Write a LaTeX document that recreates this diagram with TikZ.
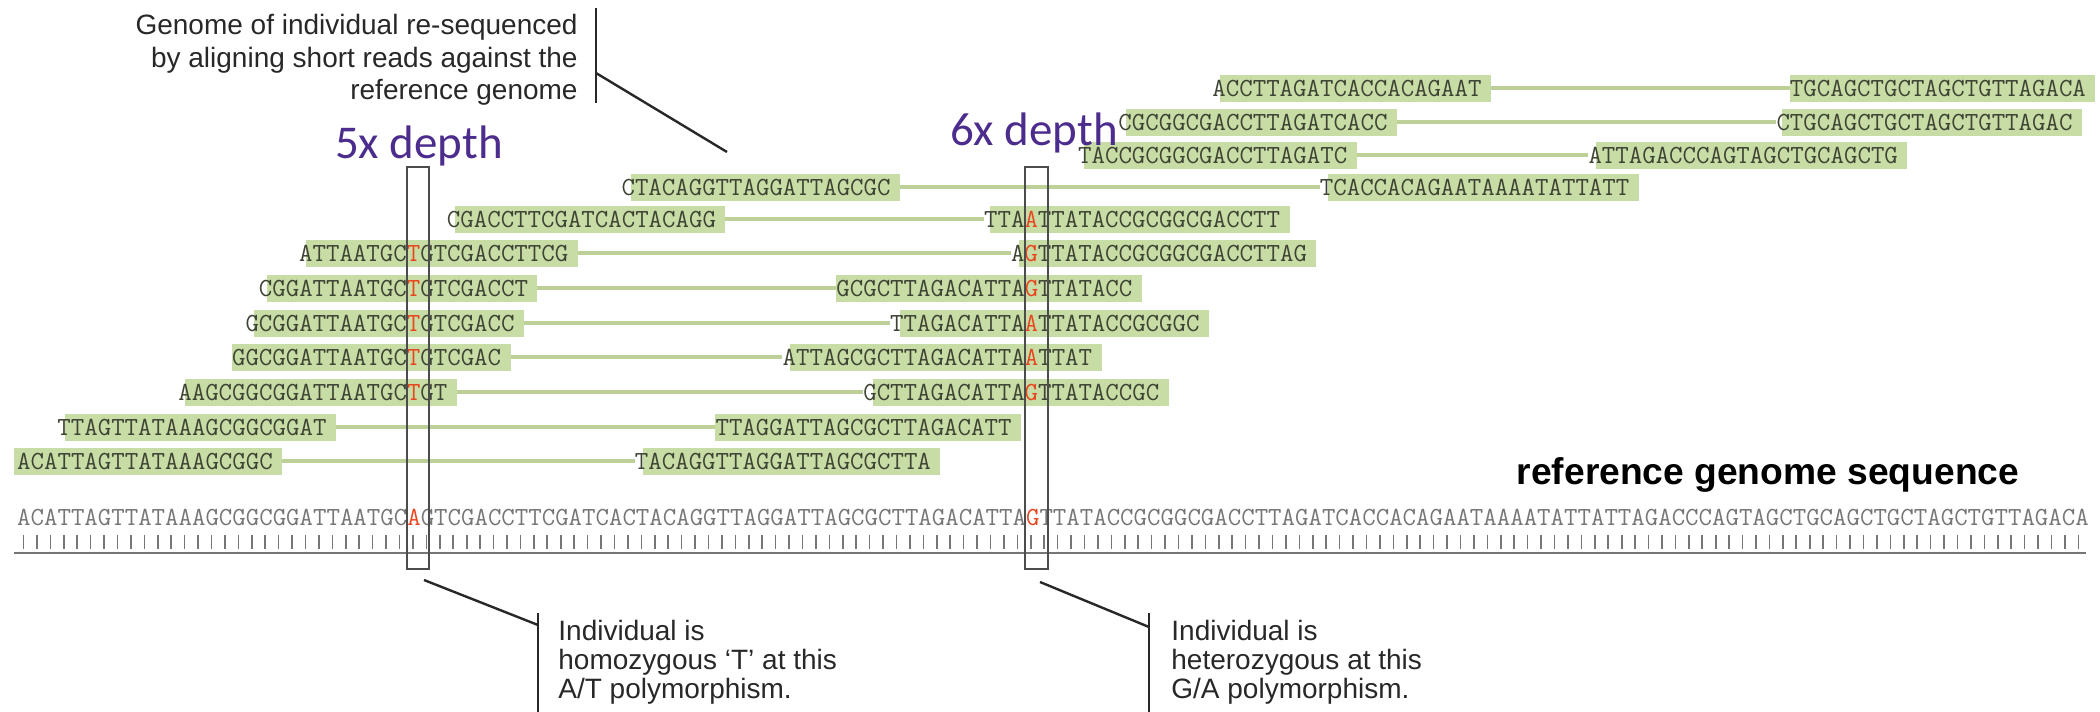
\documentclass[tikz,border=0pt]{standalone}
\usepackage{fontspec}
\usepackage{tikz}
\usetikzlibrary{calc,backgrounds}
\newfontfamily\notefont{Liberation Sans}
\newfontfamily\depthfont{Carlito}
\definecolor{readgreen}{RGB}{200,220,165}
\definecolor{linkgreen}{RGB}{188,208,152}
\definecolor{readgray}{RGB}{62,68,52}
\definecolor{refgray}{RGB}{118,118,118}
\definecolor{snpred}{RGB}{232,70,30}
\definecolor{depthpurple}{RGB}{76,44,140}
\definecolor{notegray}{RGB}{40,40,40}
\newcommand{\seqx}{16.8}
\newcommand{\seqw}{13.43}
\newcommand{\varbase}[1]{{\color{snpred}#1}}
\newcommand{\readpair}[8]{
	\node[readtext] (l#1) at ({\seqx+(#3-1)*\seqw},#2) {#5};
	\node[readtext] (r#1) at ({\seqx+(#6-1)*\seqw},#2) {#8};
	\begin{pgfonlayer}{background}
	\draw[pairline] (l#1.east) -- (r#1.west);
	\fill[readfill] ($(l#1.west)+(#4,-13.5)$) rectangle ($(l#1.east)+(9,13.5)$);
	\fill[readfill] ($(r#1.west)+(#7,-13.5)$) rectangle ($(r#1.east)+(9,13.5)$);
	\end{pgfonlayer}
}

\begin{document}
\begin{tikzpicture}[x=0.5pt,y=-0.5pt,
	readtext/.style={anchor=west, inner sep=0pt, text=readgray, font=\fontsize{13.06}{14}\selectfont\ttfamily},
	reftext/.style={readtext, text=refgray},
	readfill/.style={fill=readgreen},
	pairline/.style={draw=linkgreen, line width=1.6pt},
	tick/.style={draw=refgray, line width=0.8pt},
	scaleline/.style={draw=refgray, line width=1pt},
	snpbox/.style={draw=black!70, line width=1pt},
	callout/.style={draw=notegray, line width=1.2pt},
	note/.style={inner sep=0pt, text=notegray, font=\notefont\fontsize{14}{16.25}\selectfont},
	depthlabel/.style={inner sep=0pt, text=depthpurple, font=\depthfont\fontsize{23.5}{28}\selectfont}]
	\useasboundingbox (0,0) rectangle (2100,712);

	\readpair{1}{88}{90}{8}{ACCTTAGATCACCACAGAAT}{133}{0}{TGCAGCTGCTAGCTGTTAGACA}
	\readpair{2}{122}{83}{8}{CGCGGCGACCTTAGATCACC}{132}{6}{CTGCAGCTGCTAGCTGTTAGAC}
	\readpair{3}{155}{80}{6}{TACCGCGGCGACCTTAGATC}{118}{8}{ATTAGACCCAGTAGCTGCAGCTG}
	\readpair{4}{187}{46}{10}{CTACAGGTTAGGATTAGCGC}{98}{8}{TCACCACAGAATAAAATATTATT}
	\readpair{5}{219}{33}{8}{CGACCTTCGATCACTACAGG}{73}{6}{TTA\varbase{A}TTATACCGCGGCGACCTT}
	\readpair{6}{253}{22}{7}{ATTAATGC\varbase{T}GTCGACCTTCG}{75}{8}{A\varbase{G}TTATACCGCGGCGACCTTAG}
	\readpair{7}{288}{19}{8}{CGGATTAATGC\varbase{T}GTCGACCT}{62}{0}{GCGCTTAGACATTA\varbase{G}TTATACC}
	\readpair{8}{323}{18}{9}{GCGGATTAATGC\varbase{T}GTCGACC}{66}{10}{TTAGACATTA\varbase{A}TTATACCGCGGC}
	\readpair{9}{357}{17}{0}{GGCGGATTAATGC\varbase{T}GTCGAC}{58}{8}{ATTAGCGCTTAGACATTA\varbase{A}TTAT}
	\readpair{10}{392}{13}{7}{AAGCGGCGGATTAATGC\varbase{T}GT}{64}{10}{GCTTAGACATTA\varbase{G}TTATACCGC}
	\readpair{11}{427}{4}{8}{TTAGTTATAAAGCGGCGGAT}{53}{0}{TTAGGATTAGCGCTTAGACATT}
	\readpair{12}{461}{1}{-3}{ACATTAGTTATAAAGCGGC}{47}{8}{TACAGGTTAGGATTAGCGCTTA}

	\node[reftext] (refseq) at ({\seqx},517) {ACATTAGTTATAAAGCGGCGGATTAATGC\varbase{A}GTCGACCTTCGATCACTACAGGTTAGGATTAGCGCTTAGACATTA\varbase{G}TTATACCGCGGCGACCTTAGATCACCACAGAATAAAATATTATTAGACCCAGTAGCTGCAGCTGCTAGCTGTTAGACA};
	\foreach \i in {1,...,154}
		\draw[tick] ({\seqx+(\i-0.5)*\seqw},535) -- ++(0,14);
	\coordinate (s0) at (14,553);
	\coordinate (s1) at (2086,553);
	\draw[scaleline] (s0) -- (s1);
	\node[anchor=base, inner sep=0pt, text=black, font=\notefont\bfseries\fontsize{18.6}{22}\selectfont] (reflab) at (1768,484) {reference genome sequence};

	\coordinate (b1a) at (407,167);
	\coordinate (b1b) at (429,569);
	\coordinate (b2a) at (1025,167);
	\coordinate (b2b) at (1048,569);
	\draw[snpbox] (b1a) rectangle (b1b);
	\draw[snpbox] (b2a) rectangle (b2b);
	\node[depthlabel, anchor=base] (d5) at (419,158) {5x depth};
	\node[depthlabel, anchor=base] (d6) at (1034,145) {6x depth};

	\node[note, anchor=north east, align=right] (seqnote) at (578,14) {Genome of individual re-sequenced\\by aligning short reads against the\\reference genome};
	\coordinate (n0a) at (596,8);
	\coordinate (n0b) at (596,103);
	\coordinate (n0m) at (596,73);
	\coordinate (n0e) at (727,152);
	\draw[callout] (n0a) -- (n0b);
	\draw[callout] (n0m) -- (n0e);

	\node[note, anchor=north west, align=left, font=\notefont\fontsize{14}{14.5}\selectfont] (homnote) at (558,620) {Individual is\\homozygous ‘T’ at this\\A/T polymorphism.};
	\coordinate (n1s) at (424,580);
	\coordinate (n1m) at (538,625);
	\coordinate (n1a) at (538,613);
	\coordinate (n1b) at (538,712);
	\draw[callout] (n1s) -- (n1m);
	\draw[callout] (n1a) -- (n1b);

	\node[note, anchor=north west, align=left, font=\notefont\fontsize{14}{14.5}\selectfont] (hetnote) at (1171,620) {Individual is\\heterozygous at this\\G/A polymorphism.};
	\coordinate (n2s) at (1040,582);
	\coordinate (n2m) at (1149,627);
	\coordinate (n2a) at (1149,613);
	\coordinate (n2b) at (1149,712);
	\draw[callout] (n2s) -- (n2m);
	\draw[callout] (n2a) -- (n2b);
\end{tikzpicture}
\end{document}
